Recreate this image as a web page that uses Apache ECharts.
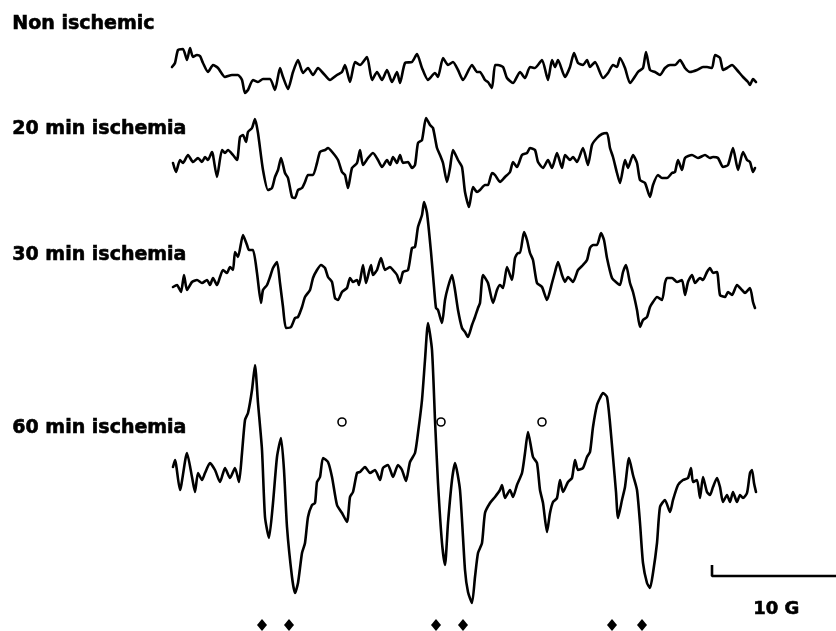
<!DOCTYPE html>
<html>
<head>
<meta charset="utf-8">
<script src="https://cdn.jsdelivr.net/npm/echarts@6/dist/echarts.min.js"></script>
<style>html,body{margin:0;padding:0;background:#fff}#c{width:836px;height:631px}</style>
</head>
<body>
<div id="c"></div>
<script>
// Field position (sweep point, 12.4 points = 1 G) and signal amplitude (a.u.)
const traceLabels = ['Non ischemic', '20 min ischemia', '30 min ischemia', '60 min ischemia'];

const field1 = [0,3,6,11,15,18,21,25,28,31,36,41,46,53,60,66,70,73,76,81,86,91,98,103,108,111,116,121,126,131,136,141,146,151,158,165,170,173,178,183,188,195,200,205,210,215,220,225,228,233,240,245,250,256,263,266,271,276,281,286,291,300,305,308,313,316,320,323,326,331,335,341,348,353,358,363,370,376,380,383,386,393,398,402,406,411,415,418,423,431,436,441,445,448,453,458,466,471,474,478,483,488,493,498,503,508,513,518,525,531,535,540,543,548,551,555,560,565,571,576,578,581,584];
const amp1 = [5,9,22,23,12,24,15,17,16,9,0,7,4,-5,-3,-3,-8,-21,-18,-8,-10,-7,-7,-18,4,-5,-17,0,12,-1,4,-3,4,-1,-8,-3,0,7,-10,10,7,15,-8,0,-8,2,-10,0,-11,9,10,18,4,-8,-1,-5,14,7,10,2,-8,7,0,0,-8,-10,-16,7,7,5,-6,-11,0,-6,5,4,12,-8,12,5,12,-5,5,19,9,7,12,5,10,-6,-1,7,5,14,4,-11,0,4,20,2,0,-3,4,7,7,12,4,0,2,5,5,4,17,14,2,4,7,2,-5,-10,-13,-7,-10];

const field2 = [1,4,8,11,16,21,26,30,33,36,40,41,45,50,53,56,61,65,68,71,74,76,80,83,86,91,96,100,103,106,109,113,116,120,123,126,130,133,136,141,145,148,153,156,161,166,170,173,176,180,185,188,191,196,201,206,210,215,218,221,225,228,231,236,240,243,246,250,254,258,261,265,268,271,275,278,281,286,290,293,297,301,305,308,313,316,320,323,328,333,338,341,345,350,355,358,363,366,371,376,380,385,390,393,398,401,405,411,416,420,425,430,435,438,441,445,448,453,456,461,465,468,473,478,481,486,490,495,500,503,506,510,513,520,526,533,538,541,546,551,556,561,566,571,575,578,581,583];
const amp2 = [-3,-12,0,-3,5,-2,2,-2,3,0,8,5,-17,10,7,10,5,0,23,25,18,28,32,41,27,-10,-30,-28,-17,-10,2,-13,-18,-37,-38,-30,-28,-22,-15,-15,-3,8,10,12,7,0,-12,-15,-28,-8,-3,10,-5,2,7,0,-7,0,-5,3,-3,5,-3,-2,-8,-5,17,20,42,35,32,12,5,-3,-22,-8,10,0,-7,-32,-47,-27,-32,-30,-25,-25,-13,-15,-22,-17,-12,-2,-7,5,7,12,10,-2,-8,0,-8,7,-8,5,0,3,-2,12,-5,15,22,26,27,12,3,-13,-23,0,-8,5,-3,-20,-23,-37,-25,-15,-18,-18,-13,-12,0,-10,2,5,2,5,2,3,2,-7,-5,12,-10,8,0,-2,-12,-8];

const field3 = [1,5,9,12,15,20,25,30,35,38,41,45,48,51,55,58,61,63,66,71,75,77,81,85,89,91,95,98,101,105,108,111,114,119,123,126,130,133,138,141,145,149,153,156,160,163,166,170,175,178,181,185,187,191,194,199,201,205,209,213,218,221,225,228,231,236,240,243,246,250,252,255,259,262,264,266,270,273,276,280,283,286,290,293,296,300,303,306,308,311,316,321,325,328,331,335,340,343,346,348,352,355,358,361,365,370,375,380,383,386,390,393,396,401,406,411,415,418,421,425,429,432,435,440,445,448,451,454,458,461,465,468,471,475,478,481,485,490,493,495,500,505,510,513,516,520,523,528,531,535,538,541,545,548,553,556,560,565,570,573,578,581,583];
const amp3 = [-7,-5,-12,5,-10,-2,0,-3,0,-5,2,-5,3,10,7,13,10,28,23,45,35,30,30,7,-23,-10,-5,3,12,18,-3,-27,-48,-47,-38,-37,-27,-17,-10,2,10,15,12,3,-2,-18,-20,-12,-8,2,-2,0,-5,15,-3,15,5,10,22,10,13,10,5,-3,8,10,32,33,53,65,78,67,28,-7,-28,-30,-43,-20,-7,5,-10,-30,-48,-52,-57,-45,-37,-28,-23,5,-3,-23,-10,-5,-8,13,0,22,27,27,48,40,27,20,-3,-7,-20,-3,8,18,5,-2,3,-2,10,15,20,32,35,35,47,40,22,2,-3,-5,8,15,-3,-12,-30,-47,-40,-37,-27,-22,-17,-20,-3,2,2,-2,0,-15,-2,5,-3,2,0,8,12,7,8,-15,-17,-12,-15,-5,-10,-13,-8,-22,-28];

const field4 = [1,3,8,15,20,23,26,30,33,38,43,48,53,58,63,67,70,73,76,80,83,86,90,93,97,101,105,109,112,115,120,123,126,130,133,136,140,143,145,148,151,156,160,165,170,175,178,181,185,188,193,198,203,208,211,216,221,226,230,234,238,243,246,250,253,256,260,263,266,270,273,276,280,283,288,293,296,300,303,306,310,313,318,323,328,330,333,338,341,345,350,353,356,361,365,368,371,375,378,381,385,388,391,396,400,403,406,411,415,418,421,425,428,431,435,438,441,444,446,450,453,457,461,465,468,471,475,478,481,485,488,493,498,501,506,511,516,519,521,525,528,531,535,538,541,545,548,551,555,558,561,565,568,571,575,578,580,582,584];
const amp4 = [8,15,-15,22,-2,-17,2,-5,2,12,5,-7,7,-3,7,-7,22,55,62,85,110,72,25,-42,-63,-28,18,37,5,-52,-102,-118,-108,-78,-68,-42,-30,-28,-7,-2,17,13,-2,-30,-38,-47,-22,-17,2,3,8,2,5,-5,7,10,-2,10,5,-6,13,22,42,75,115,152,125,55,-8,-68,-90,-48,-5,12,-15,-95,-117,-128,-102,-78,-68,-38,-28,-22,-15,-10,-23,-15,-22,-10,2,22,43,18,12,-15,-28,-57,-38,-27,-23,-5,-17,-7,-3,15,5,7,18,23,48,70,77,82,78,52,18,-17,-43,-25,-12,17,0,-15,-48,-88,-108,-113,-98,-68,-32,-25,-37,-25,-10,-5,-3,7,-7,-5,-23,-2,-17,-20,-12,-3,-12,-27,-20,-27,-17,-27,-20,-23,-18,2,5,-8,-17];

// marked hyperfine lines
const openCircleLines = [170, 269, 370];
const diamondLines = [90, 117, 264, 291, 440, 470];

// scale bar
const scaleBarGauss = 10;
const pointsPerGauss = 12.4;
const scaleBarStart = 540;
const scaleBarLabel = '10 G';
</script>
<script>
const chart = echarts.init(document.getElementById('c'), null, {renderer: 'canvas'});
const H = 631;
const baselines = [72, 160, 280, 475];   // layout: vertical placement of each trace
const fields = [field1, field2, field3, field4];
const amps = [amp1, amp2, amp3, amp4];

const traceSeries = fields.map((f, k) => ({
  type: 'line',
  data: f.map((x, i) => [x, (H - baselines[k]) + amps[k][i]]),
  showSymbol: false,
  smooth: 0.2,
  lineStyle: {color: '#000', width: 2.6, join: 'round', cap: 'round'},
  silent: true,
  animation: false,
  clip: false
}));

const series = traceSeries.concat([
  {
    type: 'scatter',
    data: openCircleLines.map(x => [x, H - 422]),
    symbol: 'circle',
    symbolSize: 8,
    itemStyle: {color: '#fff', borderColor: '#000', borderWidth: 1.6, opacity: 1},
    animation: false, silent: true
  },
  {
    type: 'scatter',
    data: diamondLines.map(x => [x, H - 625]),
    symbol: 'diamond',
    symbolSize: [10, 12],
    itemStyle: {color: '#000', opacity: 1},
    animation: false, silent: true
  },
  {
    type: 'line',
    data: [[scaleBarStart, H - 565], [scaleBarStart, H - 576], [scaleBarStart + scaleBarGauss * pointsPerGauss, H - 576]],
    showSymbol: false,
    lineStyle: {color: '#000', width: 2.6},
    clip: false, animation: false, silent: true
  }
]);

const labelY = [25, 130, 256, 429];
const font = 'bold 19px "DejaVu Sans", "Liberation Sans", Arial, sans-serif';
const graphics = traceLabels.map((t, k) => ({
  type: 'text', left: 12, top: labelY[k] - 11,
  style: {text: t, font: font, fill: '#000', stroke: '#000', lineWidth: 0.6}
}));
graphics.push({
  type: 'text', left: 753, top: 600,
  style: {text: scaleBarLabel, font: 'bold 18px "DejaVu Sans", "Liberation Sans", Arial, sans-serif', fill: '#000', stroke: '#000', lineWidth: 0.6}
});

chart.setOption({
  backgroundColor: '#fff',
  animation: false,
  grid: {left: 172, right: 0, top: 0, bottom: 0},
  xAxis: {type: 'value', min: 0, max: 664, show: false},
  yAxis: {type: 'value', min: 0, max: H, show: false},
  series: series,
  graphic: graphics
});
</script>
</body>
</html>
